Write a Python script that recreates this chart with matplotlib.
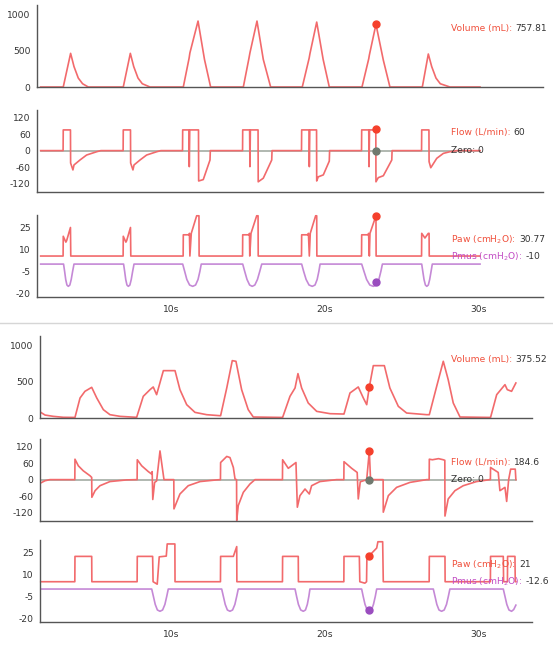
import numpy as np
import matplotlib
matplotlib.use("Agg")
import matplotlib.pyplot as plt
from matplotlib.ticker import FuncFormatter

# ---------------- data: panel 1 (time in s) ----------------
vol1_t = [1.48, 2.95, 3.43, 3.65, 3.93, 4.21, 4.58,
          6.86, 7.32, 7.54, 7.82, 8.10, 8.60,
          10.77, 11.15, 11.20, 11.73, 12.15, 12.55,
          14.68, 15.05, 15.11, 15.57, 15.98, 16.46,
          18.52, 18.97, 19.02, 19.46, 19.88, 20.28,
          22.41, 22.85, 22.89, 23.32, 23.80, 24.23,
          26.34, 26.73, 26.95, 27.23, 27.51, 28.14, 30.10]
vol1_v = [0, 0, 464, 282, 123, 45, 0,
          0, 464, 282, 123, 45, 0,
          0, 400, 470, 909, 380, 0,
          0, 400, 470, 909, 380, 0,
          0, 400, 460, 895, 380, 0,
          0, 390, 440, 864, 370, 0,
          0, 455, 282, 123, 45, 0, 0]

flow1_t = [1.48, 2.94, 2.95, 3.42, 3.43, 3.58, 3.65, 4.04, 4.47, 5.13, 5.40,
           6.85, 6.86, 7.33, 7.34, 7.49, 7.56, 7.95, 8.38, 9.04, 9.31,
           10.72, 10.73, 11.14, 11.16, 11.19, 11.76, 11.77, 12.07, 12.51, 12.53,
           14.63, 14.64, 15.09, 15.11, 15.14, 15.64, 15.65, 15.98, 16.53, 16.55,
           18.47, 18.48, 18.96, 18.98, 19.01, 19.45, 19.46, 19.56, 19.89, 20.28, 20.30,
           22.38, 22.39, 22.85, 22.87, 22.90, 23.31, 23.32, 23.47, 23.80, 24.35, 24.37,
           26.29, 26.30, 26.77, 26.78, 26.89, 27.28, 27.71, 28.14, 28.60, 30.10]
flow1_v = [0, 0, 75, 75, -45, -70, -52, -34, -16, -4, 0,
           0, 75, 75, -45, -70, -52, -34, -16, -4, 0,
           0, 75, 75, -58, 75, 75, -110, -105, -34, 0,
           0, 75, 75, -58, 75, 75, -113, -100, -34, 0,
           0, 75, 75, -58, 75, 75, -110, -95, -88, -38, 0,
           0, 75, 75, -58, 75, 75, -113, -98, -91, -34, 0,
           0, 75, 75, -40, -62, -28, -10, -4, 0, 0]

paw1_t = [1.48, 2.94, 2.95, 3.12, 3.17, 3.42, 3.44,
          6.85, 6.86, 7.03, 7.08, 7.33, 7.35,
          10.76, 10.77, 11.15, 11.17, 11.20, 11.29, 11.64, 11.79, 11.80,
          14.63, 14.64, 15.06, 15.08, 15.10, 15.18, 15.55, 15.64, 15.65,
          18.47, 18.48, 18.90, 18.92, 18.98, 19.04, 19.39, 19.46, 19.47,
          22.38, 22.39, 22.82, 22.84, 22.89, 22.93, 23.32, 23.33,
          26.29, 26.30, 26.51, 26.73, 26.78, 26.79, 30.10]
paw1_v = [5.5, 5.5, 19, 15, 16, 25, 5.5,
          5.5, 19, 15, 16, 25, 5.5,
          5.5, 20, 20, 21, 5.5, 21, 33, 33, 5.5,
          5.5, 20, 20, 21, 5.5, 21, 33, 33, 5.5,
          5.5, 20, 20, 21, 5.5, 21, 33, 33, 5.5,
          5.5, 20, 20, 21, 5.5, 21, 33, 5.5,
          5.5, 21, 17.8, 21, 21, 5.5, 5.5]

pmus1_t = [1.48,
           2.97, 3.04, 3.11, 3.19, 3.28, 3.38, 3.47, 3.56, 3.65,
           6.88, 6.95, 7.02, 7.10, 7.19, 7.29, 7.38, 7.47, 7.56,
           10.73, 10.86, 11.00, 11.18, 11.38, 11.57, 11.73, 11.85, 11.94,
           14.64, 14.77, 14.92, 15.09, 15.26, 15.43, 15.60, 15.75, 15.88,
           18.48, 18.61, 18.77, 18.96, 19.17, 19.35, 19.49, 19.60, 19.68,
           22.39, 22.54, 22.71, 22.92, 23.15, 23.35, 23.51, 23.64, 23.74,
           26.30, 26.37, 26.45, 26.54, 26.63, 26.73, 26.82, 26.91, 26.99,
           30.10]
pmus1_v = [0,
           0, -5, -10.5, -14.3, -15.2, -14.3, -10.5, -5, 0,
           0, -5, -10.5, -14.3, -15.2, -14.3, -10.5, -5, 0,
           0, -5, -10.5, -14.3, -15.2, -14.3, -10.5, -5, 0,
           0, -5, -10.5, -14.3, -15.2, -14.3, -10.5, -5, 0,
           0, -5, -10.5, -14.3, -15.2, -14.3, -10.5, -5, 0,
           0, -5, -10.5, -14.3, -15.2, -14.3, -10.5, -5, 0,
           0, -5, -10.5, -14.3, -15.2, -14.3, -10.5, -5, 0,
           0]

# cursor 1: time and marker values
cur1_t = 23.32
cur1 = {"vol": 864, "flow": 79, "paw": 33, "pmus": -12.3}
read1 = {"vol": "757.81", "flow": "60", "zero": "0", "paw": "30.77", "pmus": "-10"}

# ---------------- data: panel 2 ----------------
vol2_t = [1.48, 1.76, 2.30, 2.95,
          3.71, 4.04, 4.36, 4.80, 5.13, 5.56, 5.99, 6.65, 7.69,
          7.73, 8.16, 8.60, 8.81, 9.03, 9.47, 10.23, 10.55, 10.99, 11.53, 12.29, 13.16,
          13.20, 13.60, 13.96, 14.20, 14.57, 15.00, 15.33, 17.20,
          17.24, 17.72, 18.05, 18.24, 18.48, 18.91, 19.46, 20.33, 21.19,
          21.24, 21.63, 22.17, 22.50, 22.72, 22.89, 23.15, 23.87, 24.23, 24.78, 25.32, 26.63,
          26.80, 27.28, 27.71, 28.03, 28.36, 28.80, 30.75,
          30.79, 31.19, 31.73, 31.88, 32.16, 32.44]
vol2_v = [78, 41, 23, 10,
          8, 276, 368, 423, 276, 115, 46, 23, 10,
          10, 299, 391, 428, 322, 653, 653, 391, 184, 78, 46, 32,
          32, 414, 791, 782, 391, 115, 14, 8,
          8, 299, 414, 612, 414, 207, 92, 60, 55,
          55, 345, 428, 276, 184, 428, 722, 722, 414, 161, 69, 46,
          46, 437, 782, 529, 207, 14, 8,
          8, 322, 460, 391, 368, 483]

flow2_t = [1.48, 1.76, 2.08,
           3.70, 3.71, 3.93, 4.25, 4.69, 4.80, 4.81, 5.02, 5.34, 5.99, 7.08,
           7.76, 7.77, 8.06, 8.49, 8.71, 8.74, 8.78, 8.90, 9.03, 9.25, 9.51, 10.15, 10.16, 10.55, 11.09, 11.86, 12.94,
           13.19, 13.20, 13.60, 13.81, 14.03, 14.14, 14.24, 14.25, 14.35, 14.68, 15.11, 15.44,
           17.23, 17.24, 17.61, 18.11, 18.20, 18.37, 18.70, 18.98, 19.13, 19.67, 20.76,
           21.23, 21.24, 21.74, 22.10, 22.17, 22.30, 22.72, 22.89, 22.97, 23.79, 23.80, 24.13, 24.67, 25.54, 26.63,
           26.79, 26.80, 27.00, 27.40, 27.71, 27.81, 27.82, 28.03, 28.47, 29.01, 29.88, 30.75,
           30.78, 30.79, 31.29, 31.40, 31.73, 31.84, 31.97, 32.10, 32.40, 32.44]
flow2_v = [-12, -4, 0,
           0, 74, 50, 32, 14, 8, -64, -40, -22, -7, -1,
           0, 72, 50, 29, 20, 29, -72, -10, -5, 104, 0, 0, -106, -52, -22, -7, -1,
           0, 62, 84, 80, 44, 2, 0, -148, -94, -46, -16, 0,
           0, 72, 41, 62, -100, -58, -34, -52, -22, -7, 0,
           0, 65, 41, 26, -70, -8, 0, 104, 0, 0, -118, -58, -28, -10, 0,
           0, 74, 72, 76, 72, 70, -132, -70, -40, -22, -7, 0,
           0, 44, 26, -40, -28, -79, 0, 38, 38, 0]

paw2_t = [1.48, 3.70, 3.71, 4.80, 4.81,
          7.76, 7.77, 8.77, 8.80, 9.07, 9.20, 9.66, 9.72, 10.22, 10.23,
          13.19, 13.20, 14.03, 14.25, 14.26,
          17.23, 17.24, 18.26, 18.27,
          21.23, 21.24, 22.24, 22.27, 22.60, 22.71, 22.73, 22.89, 23.37, 23.45, 23.76, 23.80,
          26.79, 26.80, 27.82, 27.83,
          30.78, 30.79, 31.62, 31.64, 31.89, 31.90, 32.38, 32.40, 32.44]
paw2_v = [5, 5, 22.3, 22.3, 5,
          5, 22.3, 22.3, 5, 3.3, 22, 22.5, 30.8, 30.8, 5,
          5, 22.3, 22.3, 29, 5,
          5, 22.3, 22.3, 5,
          5, 22.3, 22.3, 5, 4, 5, 20, 22.8, 28, 32.3, 32.3, 5,
          5, 22.3, 22.3, 5,
          5, 22.3, 22.3, 5, 5, 22.3, 22.3, 5, 5]

pmus2_t = [1.48,
           8.71, 8.82, 8.94, 9.08, 9.25, 9.42, 9.57, 9.69, 9.79,
           13.27, 13.38, 13.50, 13.64, 13.81, 13.98, 14.13, 14.25, 14.35,
           18.05, 18.15, 18.27, 18.42, 18.59, 18.73, 18.85, 18.95, 19.02,
           22.39, 22.49, 22.61, 22.75, 22.89, 23.03, 23.16, 23.28, 23.37,
           27.06, 27.17, 27.29, 27.43, 27.60, 27.77, 27.92, 28.04, 28.14,
           31.62, 31.73, 31.85, 31.99, 32.16, 32.30, 32.44]
pmus2_v = [0,
           0, -5, -10.5, -14.3, -15.2, -14.3, -10.5, -5, 0,
           0, -5, -10.5, -14.3, -15.2, -14.3, -10.5, -5, 0,
           0, -5, -10.5, -14.3, -15.2, -14.3, -10.5, -5, 0,
           0, -5, -10.5, -14.3, -15.2, -14.3, -10.5, -5, 0,
           0, -5, -10.5, -14.3, -15.2, -14.3, -10.5, -5, 0,
           0, -5, -10.5, -14.3, -15.2, -14, -11]

cur2_t = 22.89
cur2 = {"vol": 428, "flow": 104, "paw": 22.7, "pmus": -14.5}
read2 = {"vol": "375.52", "flow": "184.6", "zero": "0", "paw": "21", "pmus": "-12.6"}

x_ticks = [10, 20, 30]
vol_ticks = [0, 500, 1000]
flow_ticks = [-120, -60, 0, 60, 120]
paw_ticks = [-20, -5, 10, 25]

# ---------------- style ----------------
RED = "#f26a6c"
PURPLE = "#c589d6"
GRAY = "#a3aba3"
LBL_RED = "#f0503c"
LBL_PURPLE = "#c24cc4"
TXT = "#333333"
plt.rcParams["font.family"] = ["DejaVu Sans"]
plt.rcParams["axes.unicode_minus"] = False
FS = 6.6

fig = plt.figure(figsize=(5.53, 6.45), dpi=100)


def style_axes(ax, xlim, ylim, yticks, show_x):
    ax.set_xlim(*xlim)
    ax.set_ylim(*ylim)
    ax.set_yticks(yticks)
    ax.set_xticks(x_ticks)
    ax.xaxis.set_major_formatter(FuncFormatter(lambda v, p: f"{v:g}s"))
    for s in ("top", "right"):
        ax.spines[s].set_visible(False)
    for s in ("left", "bottom"):
        ax.spines[s].set_color("#555555")
        ax.spines[s].set_linewidth(1.0)
    ax.tick_params(axis="y", length=0, pad=4.5, labelsize=FS, colors=TXT)
    ax.tick_params(axis="x", length=0, pad=6, labelsize=FS, colors=TXT,
                   labelbottom=show_x)
    ax.patch.set_alpha(0)


def label(ax, xf, yf, name, value, color):
    t = ax.text(xf, yf, name, transform=ax.transAxes, color=color,
                fontsize=FS, va="center", ha="left")
    ax.annotate(value, xy=(1, 0.5), xycoords=t, xytext=(2.5, 0),
                textcoords="offset points", va="center", ha="left",
                color=TXT, fontsize=FS)


def dot(ax, x, y, color):
    ax.plot(x, y, "o", ms=5, color=color, zorder=5, clip_on=False)


def panel(rects, xlim, lx, data, cur_t, cur, read):
    (vt, vv), (ft, fv), (pt, pv), (mt, mv) = data
    ax_v = fig.add_axes(rects[0])
    ax_f = fig.add_axes(rects[1])
    ax_p = fig.add_axes(rects[2])

    ax_v.plot(vt, vv, color=RED, lw=1.2, solid_joinstyle="round")
    dot(ax_v, cur_t, cur["vol"], "#f5402c")
    style_axes(ax_v, xlim, (0, 1130), vol_ticks, False)
    label(ax_v, lx, 0.71, "Volume (mL):", read["vol"], LBL_RED)

    ax_f.plot([ft[0], ft[-1]], [0, 0], color=GRAY, lw=1.2)
    ax_f.plot(ft, fv, color=RED, lw=1.2, solid_joinstyle="round")
    dot(ax_f, cur_t, cur["flow"], "#f5402c")
    dot(ax_f, cur_t, 0, "#6f7a6f")
    style_axes(ax_f, xlim, (-150, 147), flow_ticks, False)
    label(ax_f, lx, 0.72, "Flow (L/min):", read["flow"], LBL_RED)
    ax_f.text(lx, 0.505, "Zero: " + read["zero"], transform=ax_f.transAxes,
              color=TXT, fontsize=FS, va="center", ha="left")

    ax_p.plot(mt, mv, color=PURPLE, lw=1.2)
    ax_p.plot(pt, pv, color=RED, lw=1.2, solid_joinstyle="round", clip_on=False)
    dot(ax_p, cur_t, cur["paw"], "#f5402c")
    dot(ax_p, cur_t, cur["pmus"], "#9a4dbf")
    style_axes(ax_p, xlim, (-22.5, 33.5), paw_ticks, True)
    label(ax_p, lx, 0.70, r"Paw (cmH$_2$O):", read["paw"], LBL_RED)
    label(ax_p, lx, 0.49, r"Pmus (cmH$_2$O):", read["pmus"], LBL_PURPLE)


panel([[0.0669, 0.8651, 0.915, 0.1271],
       [0.0669, 0.7023, 0.915, 0.1271],
       [0.0669, 0.5395, 0.915, 0.1271]],
      (1.24, 34.2), 0.818,
      [(vol1_t, vol1_v), (flow1_t, flow1_v), (paw1_t, paw1_v), (pmus1_t, pmus1_v)],
      cur1_t, cur1, read1)

panel([[0.0723, 0.3519, 0.8897, 0.1271],
       [0.0723, 0.1922, 0.8897, 0.1271],
       [0.0723, 0.0357, 0.8897, 0.1271]],
      (1.43, 33.49), 0.835,
      [(vol2_t, vol2_v), (flow2_t, flow2_v), (paw2_t, paw2_v), (pmus2_t, pmus2_v)],
      cur2_t, cur2, read2)

# thin separator between the two screenshots
fig.add_artist(plt.Line2D([0, 1], [1 - 323 / 645] * 2, color="#d6d6d6", lw=1.0))

fig.savefig("out.png", dpi=100, facecolor="white")
